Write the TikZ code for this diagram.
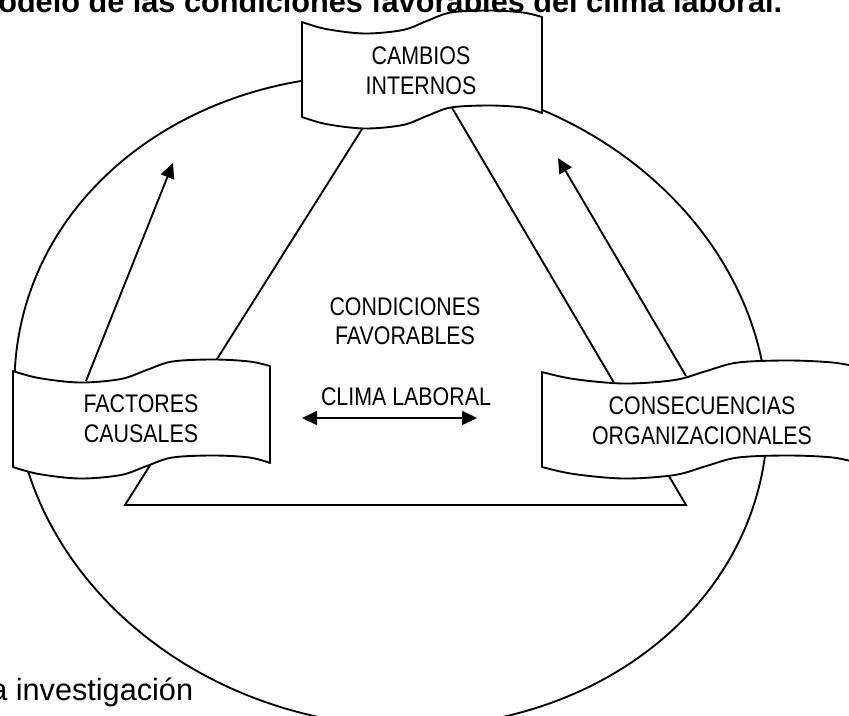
\documentclass[tikz,border=0pt]{standalone}
\usepackage{fontspec}
\setmainfont{Liberation Sans}
\newfontfamily\narrowsans[FakeStretch=0.84]{Liberation Sans}
\usetikzlibrary{arrows.meta}

% Wavy ribbon: #1,#2 = top-left corner, #3 = width, #4 = height
\newcommand\wavebanner[4]{%
  \filldraw[ribbon,shift={(#1,#2)}]
    plot[smooth,tension=0.55] coordinates {(0,0) ({0.10*#3},7) ({0.26*#3},11.5)
      ({0.42*#3},8) ({0.52*#3},-1) ({0.62*#3},-9.5) ({0.78*#3},-11.5)
      ({0.92*#3},-9.5) ({#3},-5)}
    -- plot[smooth,tension=0.55] coordinates {({#3},{#4-4}) ({0.92*#3},{#4-9.5})
      ({0.78*#3},{#4-11.5}) ({0.62*#3},{#4-9.5}) ({0.52*#3},{#4-1})
      ({0.42*#3},{#4+8}) ({0.26*#3},{#4+11.5}) ({0.10*#3},{#4+7}) (0,{#4})}
    -- cycle;}

\tikzset{
  outline/.style={line width=1.4pt, draw=black},
  ribbon/.style={line width=1.4pt, draw=black, fill=white, line join=round},
  label/.style={font=\narrowsans\fontsize{19.1}{22.1}\selectfont, align=center, inner sep=0pt},
  headtip/.style={-{Triangle[length=11.25pt,width=10.5pt]}},
  bothtips/.style={{Triangle[length=11.25pt,width=10.5pt]}-{Triangle[length=11.25pt,width=10.5pt]}},
}

\begin{document}
\begin{tikzpicture}[x=0.75pt,y=-0.75pt]
  \useasboundingbox (0,0) rectangle (849,715);
  \fill[white] (0,0) rectangle (849,715);
  \clip (0,0) rectangle (849,715);

  % outer ellipse, slightly tilted
  \coordinate (ec) at (391,401);
  \draw[outline, rotate around={-10:(ec)}] (ec) ellipse [x radius=378, y radius=324];

  % central triangle
  \coordinate (tA) at (125,505);
  \coordinate (tB) at (686,505);
  \coordinate (tC) at (415,45);
  \draw[outline, line join=miter] (tA) -- (tB) -- (tC) -- cycle;

  % arrows rising from the lower ribbons
  \coordinate (fcFoot) at (86,381);
  \coordinate (fcHead) at (173,163);
  \coordinate (coFoot) at (686,376);
  \coordinate (coHead) at (558,158);
  \draw[outline, headtip] (fcFoot) -- (fcHead);
  \draw[outline, headtip] (coFoot) -- (coHead);

  % ribbons
  \wavebanner{302}{22}{240}{95}
  \wavebanner{13}{371}{257}{96}
  \wavebanner{542}{372}{316}{95}

  % ribbon labels
  \node[label] (ci) at (421,70.6) {CAMBIOS\\INTERNOS};
  \node[label] (fc) at (141,418.6) {FACTORES\\CAUSALES};
  \node[label] (co) at (702,420.6) {CONSECUENCIAS\\ORGANIZACIONALES};

  % inner labels
  \node[label] (cf) at (405,321) {CONDICIONES\\FAVORABLES};
  \node[label, anchor=base] (cl) at (406,405) {CLIMA LABORAL};
  \coordinate (clL) at (302,418);
  \coordinate (clR) at (477,418);
  \draw[outline, bothtips] (clL) -- (clR);

  % title and source line
  \node[anchor=base west, inner sep=0pt, font=\bfseries\fontsize{23}{27}\selectfont] (ttl)
    at (-2,12) {odelo de las condiciones favorables del clima laboral.};
  \node[anchor=base west, inner sep=0pt, font=\fontsize{23}{27}\selectfont] (src)
    at (-10,700) {a investigación};
\end{tikzpicture}
\end{document}
